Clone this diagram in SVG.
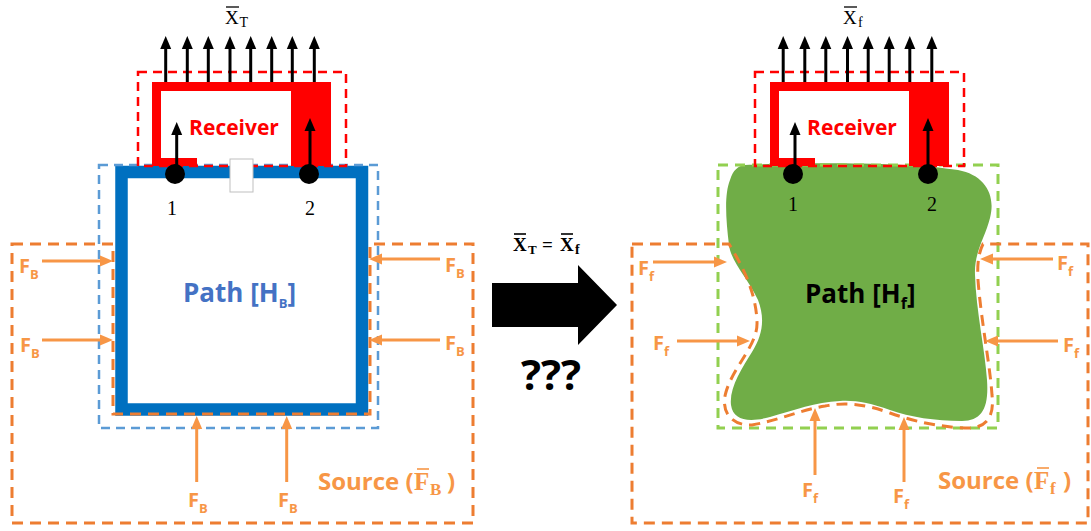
<svg xmlns="http://www.w3.org/2000/svg" width="1091" height="531" viewBox="0 0 1091 531">
<style>
.src{fill:none;stroke:#ED7D31;stroke-width:3;stroke-dasharray:11 7}
.bdash{fill:none;stroke:#5B9BD5;stroke-width:2.5;stroke-dasharray:9 6}
.gdash{fill:none;stroke:#92D050;stroke-width:3;stroke-dasharray:10 7}
.rdash{fill:none;stroke:#FF0000;stroke-width:2.5;stroke-dasharray:9 6}
.blk{stroke:#000;stroke-width:3;marker-end:url(#ab)}
.org{stroke:#F79646;stroke-width:3;marker-end:url(#ao)}
.lbl{font-family:"Open Sans","Liberation Sans",sans-serif;font-weight:bold}
.fl{font-family:"Open Sans","Liberation Sans",sans-serif;font-weight:bold;font-size:20px;fill:#F79646}
.sub{font-size:13px}
.ser{font-family:"Liberation Serif","DejaVu Serif",serif}
.bar{stroke-width:1.3}
</style>
<defs>
<marker id="ab" viewBox="0 -6 14 12" markerWidth="14" markerHeight="12" refX="1" refY="0" orient="auto" markerUnits="userSpaceOnUse"><path d="M0,-5.5 L13,0 L0,5.5 z" fill="#000"/></marker>
<marker id="ao" viewBox="0 -6 14 12" markerWidth="14" markerHeight="12" refX="1" refY="0" orient="auto" markerUnits="userSpaceOnUse"><path d="M0,-5.5 L13,0 L0,5.5 z" fill="#F79646"/></marker>
</defs>
<rect width="1091" height="531" fill="#fff"/>

<!-- LEFT -->
<g id="path-left">
<rect x="121.5" y="172" width="240.5" height="237.5" fill="#fff" stroke="#0070C0" stroke-width="12.5"/>
<rect class="bdash" x="99" y="165" width="279" height="263"/>
<text class="lbl" x="183" y="302" font-size="26" fill="#4472C4">Path [H<tspan class="sub" font-size="16" dy="6">B</tspan><tspan dy="-6">]</tspan></text>
</g>
<g id="receiver-left">
<path d="M152,82 H331 V166 H291 V91 H161 V158 H197 V166 H152 Z" fill="#FF0000"/>
<rect class="rdash" x="138" y="72" width="208" height="94"/>
<rect x="230" y="159" width="23" height="33" fill="#fff" stroke="#BFBFBF" stroke-width="1"/>
<text class="lbl" x="234" y="135" font-size="21" fill="#FF0000" text-anchor="middle">Receiver</text>
</g>
<g id="output-left">
<line x1="226" y1="7" x2="239" y2="7" stroke="#000" class="bar"/>
<text class="ser" x="225" y="24" font-size="19">X<tspan x="239.5" y="27" font-size="14">T</tspan></text>
</g>
<g id="source-left">
<path class="src" d="M12,244 H113 V414 H370 V244 H473 V523 H12 Z"/>
<text class="lbl" x="318" y="490" font-size="24" fill="#F79646">Source (</text>
<text class="ser" x="414" y="490" font-size="25" font-weight="bold" fill="#F79646">F<tspan font-size="17" x="430" dy="5">B</tspan></text>
<text class="lbl" x="447" y="490" font-size="24" fill="#F79646">)</text>
<line x1="417" y1="469" x2="429" y2="469" stroke="#F79646" stroke-width="1.6"/>
<text class="fl" x="19" y="273">F<tspan class="sub" dy="6">B</tspan></text>
<text class="fl" x="20" y="352">F<tspan class="sub" dy="6">B</tspan></text>
<text class="fl" x="445" y="272">F<tspan class="sub" dy="6">B</tspan></text>
<text class="fl" x="445" y="350">F<tspan class="sub" dy="6">B</tspan></text>
<text class="fl" x="188" y="507">F<tspan class="sub" dy="6">B</tspan></text>
<text class="fl" x="278" y="507">F<tspan class="sub" dy="6">B</tspan></text>
</g>
<g id="points-left">
<circle cx="175" cy="174" r="10"/>
<circle cx="309" cy="174" r="10"/>
<text class="ser" x="172" y="215" font-size="20" text-anchor="middle">1</text>
<text class="ser" x="310" y="215" font-size="20" text-anchor="middle">2</text>
</g>

<!-- MIDDLE -->
<g id="transform">
<text class="ser" font-weight="bold" x="513" y="251" font-size="19">X<tspan x="528" y="254" font-size="13">T</tspan><tspan x="542" y="251">=</tspan><tspan x="560">X</tspan><tspan x="575" y="254" font-size="14">f</tspan></text>
<line x1="514" y1="234" x2="526" y2="234" stroke="#000" stroke-width="1.6"/>
<line x1="561" y1="234" x2="573" y2="234" stroke="#000" stroke-width="1.6"/>
<polygon points="492,283 578,283 578,265 617,305 578,345 578,327 492,327" fill="#000"/>
<text class="lbl" x="551" y="390" font-size="42" text-anchor="middle">???</text>
</g>

<!-- RIGHT -->
<g id="path-right">
<path d="M745,165 C800,162 910,162 958,170 C985,175 996,195 990,218 C985,238 974,252 975,275 C976,310 985,350 987,380 C989,408 982,421 962,421 C935,421 910,417 890,410 C870,403 855,400 840,401 C815,402 795,410 770,417 C748,423 733,420 731,405 C729,388 742,368 752,352 C763,335 765,318 758,300 C748,278 731,262 729,245 C726,220 724,195 730,180 C733,170 738,166 745,165 Z" fill="#70AD47"/>
<rect class="gdash" x="718" y="165" width="280" height="263"/>
<text class="lbl" x="805" y="303" font-size="26" fill="#000">Path [H<tspan font-size="16" dy="6">f</tspan><tspan dy="-6">]</tspan></text>
</g>
<g id="receiver-right">
<path d="M770,82 H949 V166 H909 V91 H779 V158 H815 V166 H770 Z" fill="#FF0000"/>
<rect class="rdash" x="755" y="72" width="209" height="94"/>
<text class="lbl" x="852" y="135" font-size="21" fill="#FF0000" text-anchor="middle">Receiver</text>
</g>
<g id="output-right">
<line x1="844" y1="7" x2="857" y2="7" stroke="#000" class="bar"/>
<text class="ser" x="843" y="24" font-size="19">X<tspan x="858" y="27" font-size="14">f</tspan></text>
</g>
<g id="source-right">
<path class="src" d="M632,244 H729 C740,262 756,290 757,322 C758,345 734,365 726,392 C720,412 732,426 752,425 C780,420 800,410 825,406 C845,402 865,404 890,413 C915,422 945,428 970,428 C990,427 994,412 992,395 C990,365 981,320 978,280 C977,262 979,252 983,244 H1088 V523 H632 Z"/>
<text class="lbl" x="938" y="489" font-size="24" fill="#F79646">Source (</text>
<text class="ser" x="1034" y="489" font-size="25" font-weight="bold" fill="#F79646">F<tspan font-size="17" x="1050" dy="5">f</tspan></text>
<text class="lbl" x="1063" y="489" font-size="24" fill="#F79646">)</text>
<line x1="1037" y1="468" x2="1049" y2="468" stroke="#F79646" stroke-width="1.6"/>
<text class="fl" x="638" y="275">F<tspan class="sub" dy="6">f</tspan></text>
<text class="fl" x="653" y="350">F<tspan class="sub" dy="6">f</tspan></text>
<text class="fl" x="1057" y="270">F<tspan class="sub" dy="6">f</tspan></text>
<text class="fl" x="1063" y="352">F<tspan class="sub" dy="6">f</tspan></text>
<text class="fl" x="802" y="497">F<tspan class="sub" dy="6">f</tspan></text>
<text class="fl" x="893" y="503">F<tspan class="sub" dy="6">f</tspan></text>
</g>
<g id="points-right">
<circle cx="793" cy="174" r="10"/>
<circle cx="928" cy="174" r="10"/>
<text class="ser" x="793" y="211" font-size="20" text-anchor="middle">1</text>
<text class="ser" x="932" y="211" font-size="20" text-anchor="middle">2</text>
</g>

<g id="connectors">
<line class="blk" x1="165.7" y1="82" x2="165.7" y2="48"/>
<line class="blk" x1="187.3" y1="82" x2="187.3" y2="48"/>
<line class="blk" x1="208.3" y1="82" x2="208.3" y2="48"/>
<line class="blk" x1="230" y1="82" x2="230" y2="48"/>
<line class="blk" x1="250.7" y1="82" x2="250.7" y2="48"/>
<line class="blk" x1="271.7" y1="82" x2="271.7" y2="48"/>
<line class="blk" x1="292.3" y1="82" x2="292.3" y2="48"/>
<line class="blk" x1="314.3" y1="82" x2="314.3" y2="48"/>
<line class="blk" x1="176.7" y1="170" x2="176.7" y2="134"/>
<line class="blk" x1="310" y1="170" x2="310" y2="130"/>
<line class="blk" x1="783.2" y1="82" x2="783.2" y2="48"/>
<line class="blk" x1="804.8" y1="82" x2="804.8" y2="48"/>
<line class="blk" x1="825.8" y1="82" x2="825.8" y2="48"/>
<line class="blk" x1="847.5" y1="82" x2="847.5" y2="48"/>
<line class="blk" x1="868.2" y1="82" x2="868.2" y2="48"/>
<line class="blk" x1="889.2" y1="82" x2="889.2" y2="48"/>
<line class="blk" x1="909.8" y1="82" x2="909.8" y2="48"/>
<line class="blk" x1="931.8" y1="82" x2="931.8" y2="48"/>
<line class="blk" x1="795" y1="170" x2="795" y2="134"/>
<line class="blk" x1="928" y1="170" x2="928" y2="130"/>
<line class="org" x1="42" y1="261" x2="101" y2="261"/>
<line class="org" x1="42" y1="340" x2="101" y2="340"/>
<line class="org" x1="440" y1="259" x2="381" y2="259"/>
<line class="org" x1="440" y1="340" x2="381" y2="340"/>
<line class="org" x1="196.7" y1="482" x2="196.7" y2="428"/>
<line class="org" x1="286.7" y1="482" x2="286.7" y2="428"/>
<line class="org" x1="653" y1="262" x2="715" y2="262"/>
<line class="org" x1="677" y1="341" x2="738" y2="341"/>
<line class="org" x1="1053" y1="259" x2="992" y2="259"/>
<line class="org" x1="1058" y1="341" x2="997" y2="341"/>
<line class="org" x1="815" y1="475" x2="815" y2="420"/>
<line class="org" x1="904" y1="482" x2="904" y2="429"/>
</g>
</svg>
